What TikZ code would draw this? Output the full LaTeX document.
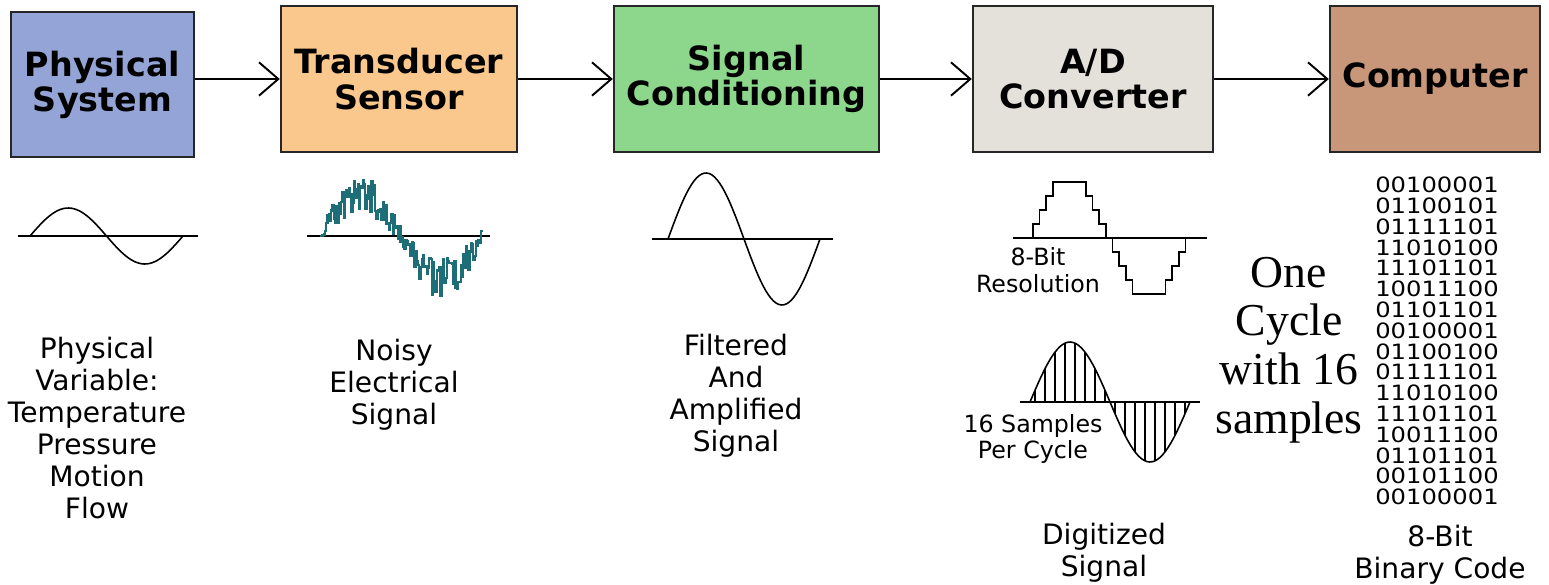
\documentclass[tikz,border=0pt]{standalone}
\usepackage{fontspec}
\setmainfont{DejaVu Sans}
\newfontfamily\timesfont{Liberation Serif}
\newfontfamily\bitsfont[FakeStretch=1.15]{DejaVu Sans}
\usetikzlibrary{arrows.meta}

\definecolor{physblue}{RGB}{148,164,214}
\definecolor{sensorange}{RGB}{250,200,140}
\definecolor{condgreen}{RGB}{140,215,140}
\definecolor{adcgrey}{RGB}{228,224,218}
\definecolor{compbrown}{RGB}{200,150,120}
\definecolor{noiseteal}{RGB}{30,110,120}

\begin{document}
\begin{tikzpicture}[x=0.02cm,y=-0.02cm,
    stage/.style={draw=black!85, line width=1.4pt, minimum height=2.92cm,
        align=center, font=\fontsize{19}{20}\selectfont\bfseries},
    flow/.style={line width=1.1pt,
        -{Straight Barb[length=11pt,width=19pt,line width=1.1pt]}},
    caption/.style={align=center, font=\fontsize{16}{18.2}\selectfont},
    smallcap/.style={align=center, font=\fontsize{13.5}{15.3}\selectfont},
    bits/.style={inner sep=0pt, font=\bitsfont\fontsize{12}{12}\selectfont},
    wave/.style={line width=0.9pt},
    axis/.style={line width=1.1pt}]
    \useasboundingbox (0,0) rectangle (1549,585);

    % blocks
    \node[stage, fill=physblue, minimum width=3.66cm, minimum height=2.9cm] (phys) at (102.5,84.5) {Physical\\System};
    \node[stage, fill=sensorange, minimum width=4.72cm] (sensor) at (399,79) {Transducer\\Sensor};
    \node[stage, fill=condgreen, minimum width=5.3cm] (cond) at (746.5,79) {Signal\\Conditioning};
    \node[stage, fill=adcgrey, minimum width=4.8cm] (adc) at (1093,79) {A/D\\Converter};
    \node[stage, fill=compbrown, minimum width=4.2cm] (comp) at (1435,79) {Computer};

    \draw[flow] (phys.east |- sensor.west) -- (sensor.west);
    \draw[flow] (sensor) -- (cond);
    \draw[flow] (cond) -- (adc);
    \draw[flow] (adc) -- (comp);

    % physical variable
    \draw[axis] (18,236) -- (198,236);
    \draw[wave, domain=0:360, samples=60] plot ({30+\x/360*153}, {236-28*sin(\x)});

    % noisy signal
    \pgfmathsetseed{11}
    \draw[axis] (307,236) -- (490,236);
    \draw[noiseteal, line width=1.3pt, domain=0:360, samples=130] plot[const plot]
        ({320+\x/360*162}, {236-(42*sin(\x)+(7+14*abs(sin(\x)))*rand)});

    % filtered signal
    \draw[axis] (652,239) -- (833,239);
    \draw[wave, domain=0:360, samples=60] plot ({668+\x/360*152}, {239-66*sin(\x)});

    % 8-bit resolution
    \draw[axis] (1013,238) -- (1207,238);
    \draw[wave, domain=0:360, samples=25] plot[const plot mark right]
        ({1033+\x/360*159}, {238-56*round(4*max(-1,min(1,1.2*sin(\x))))/4});

    % 16 samples
    \draw[axis] (1020,402) -- (1200,402);
    \draw[wave, domain=0:360, samples=60] plot ({1030+\x/360*160}, {402-60*sin(\x)});
    \foreach \k in {0,...,15}
        \draw[wave] ({1030+(\k+0.5)*10},402) -- ({1030+(\k+0.5)*10},{402-60*sin((\k+0.5)*22.5)});

    % captions
    \node[caption] (physcap) at (97,428) {Physical\\Variable:\\Temperature\\Pressure\\Motion\\Flow};
    \node[caption] (noisecap) at (394,385) {Noisy\\Electrical\\Signal};
    \node[caption] (condcap) at (736,396) {Filtered\\And\\Amplified\\Signal};
    \node[smallcap] (rescap) at (1038,270) {8-Bit\\Resolution};
    \node[smallcap] (samplecap) at (1033,439) {16 Samples\\Per Cycle};
    \node[caption] (digcap) at (1104,553) {Digitized\\Signal};
    \node[caption] (bincap) at (1440,555) {8-Bit\\Binary Code};
    \node[align=center, font=\timesfont\fontsize{26}{27.8}\selectfont] (cycle) at (1289,350) {One\\Cycle\\with 16\\samples};

    % binary code
    \foreach \code [count=\i] in {00100001,01100101,01111101,11010100,11101101,10011100,01101101,00100001,
        01100100,01111101,11010100,11101101,10011100,01101101,00101100,00100001}
        \node[bits] (bit\i) at (1437,{185+(\i-1)*20.8}) {\code};
\end{tikzpicture}
\end{document}
